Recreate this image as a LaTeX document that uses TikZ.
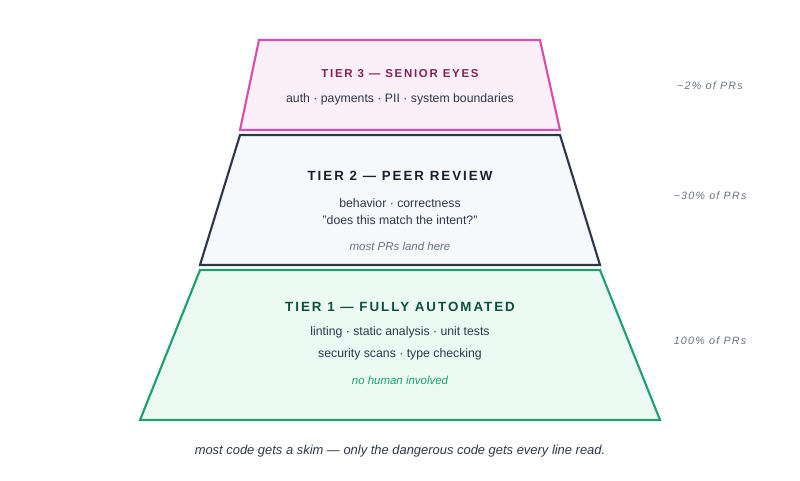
\documentclass[tikz,border=0pt]{standalone}
\usepackage{fontspec}
\setmainfont{Liberation Sans}
\newfontfamily\spaced[LetterSpace=15]{Liberation Sans}
\newfontfamily\lspaced[LetterSpace=12]{Liberation Sans}
\definecolor{pinkS}{HTML}{D94FA8}\definecolor{pinkF}{HTML}{FCF0F8}\definecolor{pinkT}{HTML}{86204F}
\definecolor{slateS}{HTML}{2D3748}\definecolor{slateF}{HTML}{F7F8FB}\definecolor{slateT}{HTML}{1A202C}
\definecolor{grnS}{HTML}{20A070}\definecolor{grnF}{HTML}{EBFAF2}\definecolor{grnT}{HTML}{134E3A}
\definecolor{txt}{HTML}{2D3748}\definecolor{gry}{HTML}{6B7280}
\tikzset{
 tier/.style={line width=1.6pt, line join=miter},
 title/.style={font=\fontsize{8.6}{10}\selectfont\bfseries\spaced, anchor=center},
 body/.style={font=\fontsize{9.2}{11}\selectfont, text=txt, anchor=center},
 note/.style={font=\fontsize{8.6}{10}\selectfont\itshape, anchor=center},
 side/.style={font=\fontsize{8}{10}\selectfont\itshape\lspaced, text=gry, anchor=center}
}
\begin{document}
\begin{tikzpicture}[x=0.75pt,y=-0.75pt]
\useasboundingbox (0,0) rectangle (800,480);
\draw[tier, draw=pinkS, fill=pinkF] (259,40) -- (540,40) -- (560,130) -- (240,130) -- cycle;
\draw[tier, draw=slateS, fill=slateF] (240,135) -- (560,135) -- (600,265) -- (200,265) -- cycle;
\draw[tier, draw=grnS, fill=grnF] (200,270) -- (600,270) -- (660,420) -- (140,420) -- cycle;
\node[title, text=pinkT] (t3) at (400,74) {TIER 3 — SENIOR EYES};
\node[body] (t3a) at (400,99) {auth · payments · PII · system boundaries};
\node[title, text=slateT, font=\fontsize{10}{12}\selectfont\bfseries\spaced] (t2) at (400,176) {TIER 2 — PEER REVIEW};
\node[body] (t2a) at (400,203) {behavior · correctness};
\node[body] (t2b) at (400,220) {"does this match the intent?"};
\node[note, text=gry] (t2c) at (400,246) {most PRs land here};
\node[title, text=grnT, font=\fontsize{10}{12}\selectfont\bfseries\spaced] (t1) at (400,307) {TIER 1 — FULLY AUTOMATED};
\node[body] (t1a) at (400,332) {linting · static analysis · unit tests};
\node[body] (t1b) at (400,354) {security scans · type checking};
\node[note, text=grnS] (t1c) at (400,380) {no human involved};
\node[side] (s3) at (710,86) {\textasciitilde2\% of PRs};
\node[side] (s2) at (710,196) {\textasciitilde30\% of PRs};
\node[side] (s1) at (710,341) {100\% of PRs};
\node[note, text=txt, font=\fontsize{9.7}{11}\selectfont\itshape] (cap) at (400,451) {most code gets a skim — only the dangerous code gets every line read.};
\end{tikzpicture}
\end{document}
